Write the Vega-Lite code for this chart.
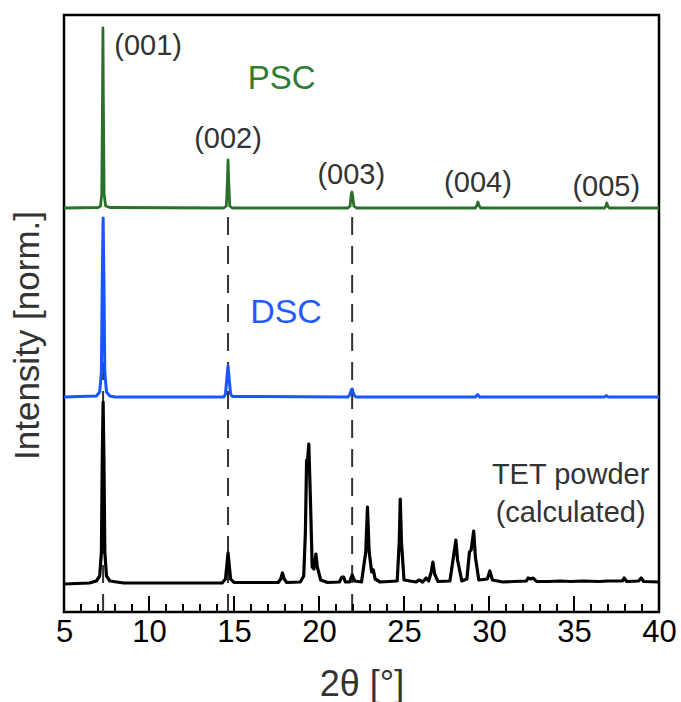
{
  "$schema": "https://vega.github.io/schema/vega-lite/v6.json",
  "width": 595,
  "height": 597,
  "autosize": {"type": "none"},
  "padding": {"left": 64, "top": 15, "right": 22, "bottom": 90},
  "config": {
    "view": {"stroke": "#000000", "strokeWidth": 2.5},
    "font": "Liberation Sans"
  },
  "datasets": {
    "guides": [{"theta": 7.3}, {"theta": 14.65}, {"theta": 21.95}],
    "major": [{"theta": 10}, {"theta": 15}, {"theta": 20}, {"theta": 25}, {"theta": 30}, {"theta": 35}],
    "minor": [
      {"theta": 6}, {"theta": 7}, {"theta": 8}, {"theta": 9},
      {"theta": 11}, {"theta": 12}, {"theta": 13}, {"theta": 14},
      {"theta": 16}, {"theta": 17}, {"theta": 18}, {"theta": 19},
      {"theta": 21}, {"theta": 22}, {"theta": 23}, {"theta": 24},
      {"theta": 26}, {"theta": 27}, {"theta": 28}, {"theta": 29},
      {"theta": 31}, {"theta": 32}, {"theta": 33}, {"theta": 34},
      {"theta": 36}, {"theta": 37}, {"theta": 38}, {"theta": 39}
    ],
    "spectra": [
      {"sample": "PSC", "theta": 5.0, "intensity": 404},
      {"sample": "PSC", "theta": 7.0, "intensity": 404.5},
      {"sample": "PSC", "theta": 7.15, "intensity": 406},
      {"sample": "PSC", "theta": 7.22, "intensity": 418},
      {"sample": "PSC", "theta": 7.26, "intensity": 500},
      {"sample": "PSC", "theta": 7.29, "intensity": 584},
      {"sample": "PSC", "theta": 7.32, "intensity": 500},
      {"sample": "PSC", "theta": 7.36, "intensity": 418},
      {"sample": "PSC", "theta": 7.45, "intensity": 406},
      {"sample": "PSC", "theta": 7.7, "intensity": 404.5},
      {"sample": "PSC", "theta": 14.4, "intensity": 404},
      {"sample": "PSC", "theta": 14.55, "intensity": 406},
      {"sample": "PSC", "theta": 14.61, "intensity": 430},
      {"sample": "PSC", "theta": 14.65, "intensity": 452},
      {"sample": "PSC", "theta": 14.69, "intensity": 430},
      {"sample": "PSC", "theta": 14.75, "intensity": 406},
      {"sample": "PSC", "theta": 14.9, "intensity": 404},
      {"sample": "PSC", "theta": 21.7, "intensity": 404},
      {"sample": "PSC", "theta": 21.83, "intensity": 406},
      {"sample": "PSC", "theta": 21.9, "intensity": 418},
      {"sample": "PSC", "theta": 21.94, "intensity": 420},
      {"sample": "PSC", "theta": 21.98, "intensity": 416},
      {"sample": "PSC", "theta": 22.05, "intensity": 406},
      {"sample": "PSC", "theta": 22.2, "intensity": 404},
      {"sample": "PSC", "theta": 29.2, "intensity": 404},
      {"sample": "PSC", "theta": 29.3, "intensity": 407},
      {"sample": "PSC", "theta": 29.35, "intensity": 410},
      {"sample": "PSC", "theta": 29.4, "intensity": 407},
      {"sample": "PSC", "theta": 29.5, "intensity": 404},
      {"sample": "PSC", "theta": 36.8, "intensity": 404},
      {"sample": "PSC", "theta": 36.88, "intensity": 406},
      {"sample": "PSC", "theta": 36.93, "intensity": 409},
      {"sample": "PSC", "theta": 36.98, "intensity": 406},
      {"sample": "PSC", "theta": 37.08, "intensity": 404},
      {"sample": "PSC", "theta": 40.0, "intensity": 404},
      {"sample": "DSC", "theta": 5.0, "intensity": 215},
      {"sample": "DSC", "theta": 6.9, "intensity": 216},
      {"sample": "DSC", "theta": 7.1, "intensity": 220},
      {"sample": "DSC", "theta": 7.2, "intensity": 240},
      {"sample": "DSC", "theta": 7.25, "intensity": 330},
      {"sample": "DSC", "theta": 7.3, "intensity": 394},
      {"sample": "DSC", "theta": 7.35, "intensity": 330},
      {"sample": "DSC", "theta": 7.4, "intensity": 240},
      {"sample": "DSC", "theta": 7.5, "intensity": 220},
      {"sample": "DSC", "theta": 7.7, "intensity": 216},
      {"sample": "DSC", "theta": 8.0, "intensity": 215},
      {"sample": "DSC", "theta": 14.4, "intensity": 215},
      {"sample": "DSC", "theta": 14.5, "intensity": 218},
      {"sample": "DSC", "theta": 14.57, "intensity": 232},
      {"sample": "DSC", "theta": 14.65, "intensity": 246},
      {"sample": "DSC", "theta": 14.72, "intensity": 232},
      {"sample": "DSC", "theta": 14.8, "intensity": 218},
      {"sample": "DSC", "theta": 14.9, "intensity": 215.5},
      {"sample": "DSC", "theta": 21.7, "intensity": 215},
      {"sample": "DSC", "theta": 21.8, "intensity": 217},
      {"sample": "DSC", "theta": 21.9, "intensity": 222},
      {"sample": "DSC", "theta": 21.95, "intensity": 223},
      {"sample": "DSC", "theta": 22.0, "intensity": 220},
      {"sample": "DSC", "theta": 22.1, "intensity": 216},
      {"sample": "DSC", "theta": 22.2, "intensity": 215},
      {"sample": "DSC", "theta": 29.2, "intensity": 215},
      {"sample": "DSC", "theta": 29.33, "intensity": 217.5},
      {"sample": "DSC", "theta": 29.45, "intensity": 215},
      {"sample": "DSC", "theta": 36.8, "intensity": 215},
      {"sample": "DSC", "theta": 36.9, "intensity": 216.5},
      {"sample": "DSC", "theta": 37.0, "intensity": 215},
      {"sample": "DSC", "theta": 40.0, "intensity": 215},
      {"sample": "TET", "theta": 5.0, "intensity": 28},
      {"sample": "TET", "theta": 6.5, "intensity": 29},
      {"sample": "TET", "theta": 6.9, "intensity": 31},
      {"sample": "TET", "theta": 7.1, "intensity": 36},
      {"sample": "TET", "theta": 7.2, "intensity": 60},
      {"sample": "TET", "theta": 7.25, "intensity": 150},
      {"sample": "TET", "theta": 7.3, "intensity": 210},
      {"sample": "TET", "theta": 7.35, "intensity": 150},
      {"sample": "TET", "theta": 7.4, "intensity": 60},
      {"sample": "TET", "theta": 7.5, "intensity": 36},
      {"sample": "TET", "theta": 7.7, "intensity": 31},
      {"sample": "TET", "theta": 8.5, "intensity": 29},
      {"sample": "TET", "theta": 14.3, "intensity": 29},
      {"sample": "TET", "theta": 14.5, "intensity": 33},
      {"sample": "TET", "theta": 14.6, "intensity": 50},
      {"sample": "TET", "theta": 14.65, "intensity": 59},
      {"sample": "TET", "theta": 14.7, "intensity": 50},
      {"sample": "TET", "theta": 14.8, "intensity": 33},
      {"sample": "TET", "theta": 15.0, "intensity": 29.5},
      {"sample": "TET", "theta": 17.6, "intensity": 29.5},
      {"sample": "TET", "theta": 17.75, "intensity": 33},
      {"sample": "TET", "theta": 17.85, "intensity": 39},
      {"sample": "TET", "theta": 17.95, "intensity": 33},
      {"sample": "TET", "theta": 18.1, "intensity": 29.5},
      {"sample": "TET", "theta": 18.9, "intensity": 30},
      {"sample": "TET", "theta": 19.1, "intensity": 36},
      {"sample": "TET", "theta": 19.2, "intensity": 80},
      {"sample": "TET", "theta": 19.27, "intensity": 152},
      {"sample": "TET", "theta": 19.32, "intensity": 150},
      {"sample": "TET", "theta": 19.4, "intensity": 168},
      {"sample": "TET", "theta": 19.5, "intensity": 110},
      {"sample": "TET", "theta": 19.6, "intensity": 45},
      {"sample": "TET", "theta": 19.7, "intensity": 43},
      {"sample": "TET", "theta": 19.82, "intensity": 58},
      {"sample": "TET", "theta": 19.9, "intensity": 45},
      {"sample": "TET", "theta": 20.1, "intensity": 32},
      {"sample": "TET", "theta": 20.5, "intensity": 29.5},
      {"sample": "TET", "theta": 21.2, "intensity": 30},
      {"sample": "TET", "theta": 21.35, "intensity": 35},
      {"sample": "TET", "theta": 21.45, "intensity": 35},
      {"sample": "TET", "theta": 21.55, "intensity": 30},
      {"sample": "TET", "theta": 21.8, "intensity": 30},
      {"sample": "TET", "theta": 21.95, "intensity": 37},
      {"sample": "TET", "theta": 22.1, "intensity": 31},
      {"sample": "TET", "theta": 22.5, "intensity": 30},
      {"sample": "TET", "theta": 22.75, "intensity": 60},
      {"sample": "TET", "theta": 22.85, "intensity": 105},
      {"sample": "TET", "theta": 22.95, "intensity": 60},
      {"sample": "TET", "theta": 23.1, "intensity": 40},
      {"sample": "TET", "theta": 23.2, "intensity": 42},
      {"sample": "TET", "theta": 23.3, "intensity": 33},
      {"sample": "TET", "theta": 23.6, "intensity": 30},
      {"sample": "TET", "theta": 24.6, "intensity": 31},
      {"sample": "TET", "theta": 24.72, "intensity": 70},
      {"sample": "TET", "theta": 24.78, "intensity": 113},
      {"sample": "TET", "theta": 24.85, "intensity": 70},
      {"sample": "TET", "theta": 25.0, "intensity": 32},
      {"sample": "TET", "theta": 25.7, "intensity": 30},
      {"sample": "TET", "theta": 25.9, "intensity": 32},
      {"sample": "TET", "theta": 26.1, "intensity": 30},
      {"sample": "TET", "theta": 26.3, "intensity": 34},
      {"sample": "TET", "theta": 26.45, "intensity": 31},
      {"sample": "TET", "theta": 26.6, "intensity": 40},
      {"sample": "TET", "theta": 26.7, "intensity": 50},
      {"sample": "TET", "theta": 26.8, "intensity": 38},
      {"sample": "TET", "theta": 27.0, "intensity": 30.5},
      {"sample": "TET", "theta": 27.7, "intensity": 31},
      {"sample": "TET", "theta": 27.95, "intensity": 60},
      {"sample": "TET", "theta": 28.05, "intensity": 72},
      {"sample": "TET", "theta": 28.15, "intensity": 52},
      {"sample": "TET", "theta": 28.4, "intensity": 31},
      {"sample": "TET", "theta": 28.7, "intensity": 33},
      {"sample": "TET", "theta": 28.85, "intensity": 60},
      {"sample": "TET", "theta": 28.95, "intensity": 62},
      {"sample": "TET", "theta": 29.1, "intensity": 81},
      {"sample": "TET", "theta": 29.2, "intensity": 55},
      {"sample": "TET", "theta": 29.4, "intensity": 32},
      {"sample": "TET", "theta": 29.9, "intensity": 33},
      {"sample": "TET", "theta": 30.05, "intensity": 41},
      {"sample": "TET", "theta": 30.2, "intensity": 32},
      {"sample": "TET", "theta": 30.8, "intensity": 30},
      {"sample": "TET", "theta": 32.2, "intensity": 31},
      {"sample": "TET", "theta": 32.3, "intensity": 34},
      {"sample": "TET", "theta": 32.45, "intensity": 33},
      {"sample": "TET", "theta": 32.6, "intensity": 34},
      {"sample": "TET", "theta": 32.8, "intensity": 30.5},
      {"sample": "TET", "theta": 33.5, "intensity": 30.5},
      {"sample": "TET", "theta": 34.2, "intensity": 31},
      {"sample": "TET", "theta": 34.8, "intensity": 30.5},
      {"sample": "TET", "theta": 35.5, "intensity": 31},
      {"sample": "TET", "theta": 36.5, "intensity": 30.5},
      {"sample": "TET", "theta": 37.0, "intensity": 31},
      {"sample": "TET", "theta": 37.85, "intensity": 31},
      {"sample": "TET", "theta": 37.95, "intensity": 34},
      {"sample": "TET", "theta": 38.1, "intensity": 30.5},
      {"sample": "TET", "theta": 38.8, "intensity": 31},
      {"sample": "TET", "theta": 38.95, "intensity": 34},
      {"sample": "TET", "theta": 39.1, "intensity": 30.5},
      {"sample": "TET", "theta": 40.0, "intensity": 30}
    ],
    "labels": [
      {"kind": "hkl", "text": "(001)", "theta": 9.95, "intensity": 566},
      {"kind": "hkl", "text": "(002)", "theta": 14.65, "intensity": 473},
      {"kind": "hkl", "text": "(003)", "theta": 21.9, "intensity": 437},
      {"kind": "hkl", "text": "(004)", "theta": 29.35, "intensity": 429},
      {"kind": "hkl", "text": "(005)", "theta": 36.9, "intensity": 425},
      {"kind": "PSC", "text": "PSC", "theta": 17.8, "intensity": 533},
      {"kind": "DSC", "text": "DSC", "theta": 18.06, "intensity": 299},
      {"kind": "TET", "text": "TET powder", "theta": 34.8, "intensity": 137},
      {"kind": "TET", "text": "(calculated)", "theta": 34.8, "intensity": 99}
    ]
  },
  "encoding": {
    "x": {
      "field": "theta",
      "type": "quantitative",
      "scale": {"domain": [5, 40], "nice": false, "zero": false},
      "axis": {
        "values": [5, 10, 15, 20, 25, 30, 35, 40],
        "ticks": false,
        "domain": false,
        "grid": false,
        "labelFontSize": 31,
        "labelColor": "#000000",
        "labelPadding": 5,
        "labelFlush": false,
        "labelOverlap": false,
        "labelBound": false,
        "title": "2θ [°]",
        "titleFontSize": 36,
        "titleFontWeight": "normal",
        "titleColor": "#333333",
        "titlePadding": 20
      }
    },
    "y": {
      "type": "quantitative",
      "scale": {"domain": [0, 597], "nice": false, "zero": false},
      "axis": {
        "domain": false,
        "ticks": false,
        "labels": false,
        "grid": false,
        "title": "Intensity [norm.]",
        "titleFontSize": 35,
        "titleFontWeight": "normal",
        "titleColor": "#333333",
        "titlePadding": 19,
        "titleY": 320
      }
    }
  },
  "layer": [
    {
      "data": {"name": "guides"},
      "mark": {"type": "rule", "strokeDash": [18, 11], "color": "#333333", "strokeWidth": 2},
      "encoding": {"y": {"datum": 0}, "y2": {"datum": 404}}
    },
    {
      "data": {"name": "minor"},
      "mark": {"type": "rule", "color": "#000000", "strokeWidth": 2},
      "encoding": {"y": {"datum": 0}, "y2": {"datum": 8}}
    },
    {
      "data": {"name": "major"},
      "mark": {"type": "rule", "color": "#000000", "strokeWidth": 2},
      "encoding": {"y": {"datum": 0}, "y2": {"datum": 16}}
    },
    {
      "data": {"name": "spectra"},
      "mark": {"type": "line", "interpolate": "linear", "strokeJoin": "round"},
      "encoding": {
        "y": {"field": "intensity"},
        "color": {
          "field": "sample",
          "type": "nominal",
          "scale": {"domain": ["PSC", "DSC", "TET"], "range": ["#2a6f2a", "#1a55ff", "#000000"]},
          "legend": null
        },
        "strokeWidth": {
          "field": "sample",
          "type": "nominal",
          "scale": {"domain": ["PSC", "DSC", "TET"], "range": [2.8, 3.2, 3.2]},
          "legend": null
        }
      }
    },
    {
      "data": {"name": "labels"},
      "transform": [{"filter": "datum.kind === 'hkl'"}],
      "mark": {"type": "text", "fontSize": 29, "color": "#333333", "align": "center", "baseline": "middle"},
      "encoding": {"y": {"field": "intensity"}, "text": {"field": "text"}}
    },
    {
      "data": {"name": "labels"},
      "transform": [{"filter": "datum.kind === 'PSC'"}],
      "mark": {"type": "text", "fontSize": 33, "color": "#2e7d32", "align": "center", "baseline": "middle"},
      "encoding": {"y": {"field": "intensity"}, "text": {"field": "text"}}
    },
    {
      "data": {"name": "labels"},
      "transform": [{"filter": "datum.kind === 'DSC'"}],
      "mark": {"type": "text", "fontSize": 34, "color": "#1f5cff", "align": "center", "baseline": "middle"},
      "encoding": {"y": {"field": "intensity"}, "text": {"field": "text"}}
    },
    {
      "data": {"name": "labels"},
      "transform": [{"filter": "datum.kind === 'TET'"}],
      "mark": {"type": "text", "fontSize": 29, "color": "#333333", "align": "center", "baseline": "middle"},
      "encoding": {"y": {"field": "intensity"}, "text": {"field": "text"}}
    }
  ]
}
